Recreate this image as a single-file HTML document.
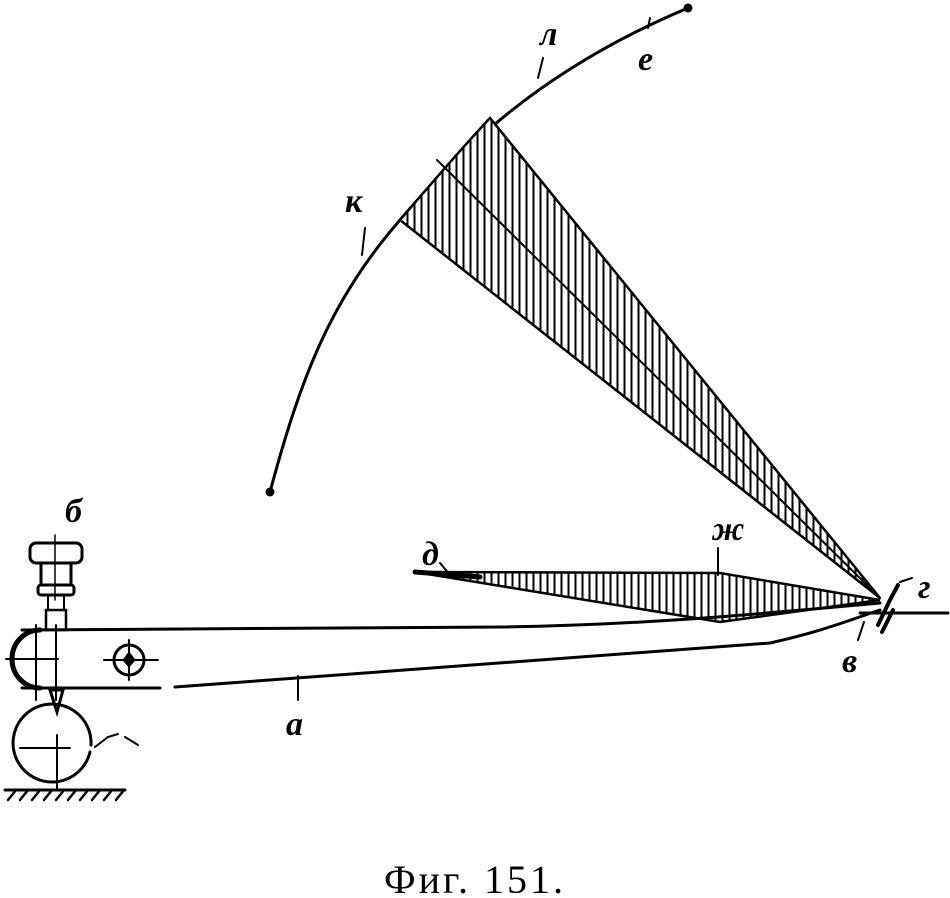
<!DOCTYPE html>
<html><head><meta charset="utf-8"><style>
html,body{margin:0;padding:0;background:#fff}
svg{display:block}
.l{font-family:"Liberation Serif",serif;font-style:italic;font-weight:bold;font-size:34px;fill:#000}
</style></head><body>
<svg width="950" height="898" viewBox="0 0 950 898" xmlns="http://www.w3.org/2000/svg">
<defs>
<pattern id="h" width="7" height="10" patternUnits="userSpaceOnUse">
<rect width="7" height="10" fill="#fff"/><line x1="1.5" y1="0" x2="1.5" y2="10" stroke="#000" stroke-width="2"/>
</pattern>
</defs>
<g fill="none" stroke="#000" stroke-linecap="round">
<path d="M270,492 C300,380 330,300 400,220 C460,150 540,70 688,8" stroke-width="3"/>
<circle cx="270" cy="492" r="4" fill="#000"/>
<circle cx="688" cy="8" r="4" fill="#000"/>
<path d="M400,220 C430,185 460,150 490,118 L880,598 Z" fill="url(#h)" stroke-width="2.5"/>
<line x1="437" y1="160" x2="880" y2="598" stroke-width="2"/>
<path d="M415,572 L720,573 L880,600 L720,622 Z" fill="url(#h)" stroke-width="2.5"/>
<path d="M415,572 L480,577" stroke-width="5"/>
<path d="M22,630 L500,627 C650,625 780,612 880,603" stroke-width="3"/>
<path d="M22,688 L160,688 M175,687 L770,643 C820,632 850,620 880,610" stroke-width="3"/>
<path d="M40,630 A28,29 0 0 0 40,688" stroke-width="5"/>
<line x1="6" y1="659" x2="58" y2="659" stroke-width="2"/>
<line x1="36" y1="625" x2="36" y2="700" stroke-width="2"/>
<line x1="56" y1="625" x2="56" y2="700" stroke-width="2"/>
<circle cx="129" cy="660" r="15" stroke-width="3"/>
<line x1="104" y1="660" x2="158" y2="660" stroke-width="2"/>
<line x1="129" y1="640" x2="129" y2="680" stroke-width="2"/>
<path d="M129,652 L135,660 L129,667 L123,660 Z" fill="#000"/>
<rect x="30" y="543" width="52" height="20" rx="6" stroke-width="3"/>
<rect x="41" y="563" width="30" height="22" stroke-width="3"/>
<rect x="38" y="585" width="36" height="10" rx="3" stroke-width="3"/>
<rect x="46" y="610" width="20" height="20" stroke-width="2.5"/>
<rect x="48" y="595" width="16" height="15" stroke-width="2"/>
<line x1="55" y1="535" x2="55" y2="600" stroke-width="1.5"/>
<path d="M50,690 L63,690 L57,712 Z" stroke-width="3"/>
<path d="M91,745 A39,39 0 1 0 90,752" stroke-width="3"/>
<line x1="20" y1="748" x2="70" y2="748" stroke-width="2"/>
<line x1="57" y1="735" x2="57" y2="790" stroke-width="2"/>
<path d="M95,747 L108,737 L118,734 M125,737 L138,745" stroke-width="2"/>
<path d="M5,790 L125,790" stroke-width="3"/>
<path d="M8,800 L16,790 M20,800 L28,790 M32,800 L40,790 M44,800 L52,790 M56,800 L64,790 M68,800 L76,790 M80,800 L88,790 M92,800 L100,790 M104,800 L112,790 M116,800 L124,790" stroke-width="2.5"/>
<line x1="860" y1="613" x2="948" y2="613" stroke-width="3"/>
<path d="M878,625 L890,600 L898,585 M882,632 L893,610" stroke-width="4"/>
<path d="M900,582 L912,578" stroke-width="2"/>
<line x1="298" y1="700" x2="298" y2="676" stroke-width="2"/>
<line x1="858" y1="640" x2="864" y2="622" stroke-width="2"/>
<line x1="718" y1="548" x2="718" y2="575" stroke-width="2"/>
<line x1="440" y1="563" x2="450" y2="575" stroke-width="2"/>
<line x1="365" y1="228" x2="362" y2="255" stroke-width="2"/>
<line x1="543" y1="58" x2="538" y2="78" stroke-width="2"/>
<line x1="648" y1="28" x2="650" y2="18" stroke-width="2"/>
</g>
<text class="l" x="65" y="522">б</text>
<text class="l" x="540" y="45">л</text>
<text class="l" x="638" y="70">е</text>
<text class="l" x="345" y="212">к</text>
<text class="l" x="422" y="565">д</text>
<text class="l" x="712" y="540">ж</text>
<text class="l" x="918" y="598">г</text>
<text class="l" x="842" y="672">в</text>
<text class="l" x="286" y="735">а</text>
<text x="475" y="893" text-anchor="middle" font-family="Liberation Serif,serif" font-size="40" letter-spacing="3" fill="#000">Фиг. 151.</text>
</svg>
</body></html>
